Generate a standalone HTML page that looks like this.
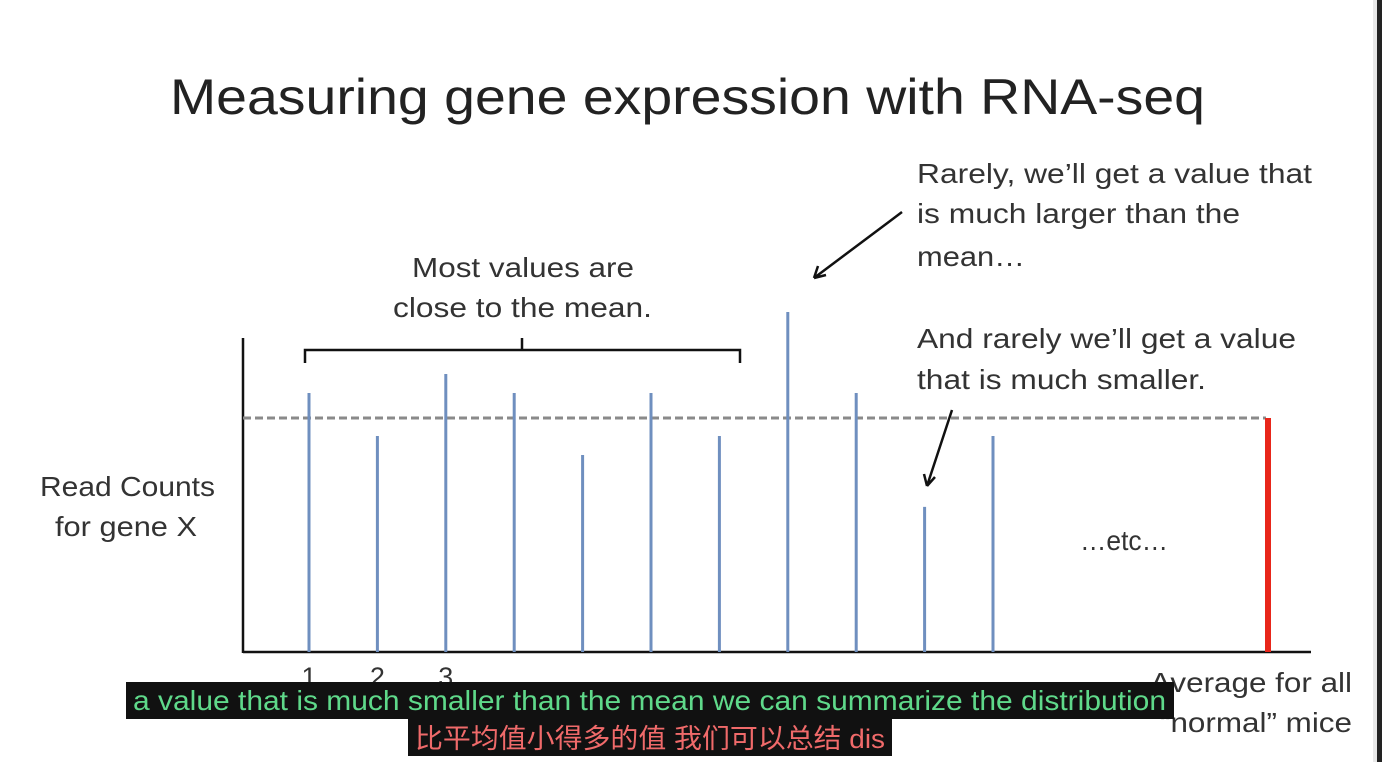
<!DOCTYPE html>
<html><head><meta charset="utf-8"><style>
html,body{margin:0;padding:0;background:#fff;}
body{width:1382px;height:762px;overflow:hidden;position:relative;font-family:"Liberation Sans","Noto Sans CJK SC",sans-serif;}
svg{position:absolute;left:0;top:0;}
</style></head><body>
<svg id="chart" width="1382" height="762">
  <rect x="1373" y="0" width="9" height="762" fill="#e8e8e8"/>
  <rect x="1377" y="0" width="5" height="762" fill="#222"/>
  <text x="170" y="114" font-size="50" fill="#222" textLength="1035" lengthAdjust="spacingAndGlyphs">Measuring gene expression with RNA-seq</text>
  <g font-size="28" fill="#333">
    <text x="412" y="277" textLength="222" lengthAdjust="spacingAndGlyphs">Most values are</text>
    <text x="393" y="317" textLength="259" lengthAdjust="spacingAndGlyphs">close to the mean.</text>
    <text x="917" y="183" textLength="395" lengthAdjust="spacingAndGlyphs">Rarely, we’ll get a value that</text>
    <text x="917" y="223" textLength="323" lengthAdjust="spacingAndGlyphs">is much larger than the</text>
    <text x="917" y="266" textLength="108" lengthAdjust="spacingAndGlyphs">mean…</text>
    <text x="917" y="348" textLength="379" lengthAdjust="spacingAndGlyphs">And rarely we’ll get a value</text>
    <text x="917" y="389" textLength="289" lengthAdjust="spacingAndGlyphs">that is much smaller.</text>
    <text x="1080" y="550" textLength="88" lengthAdjust="spacingAndGlyphs">…etc…</text>
    <text x="40" y="496" textLength="175" lengthAdjust="spacingAndGlyphs">Read Counts</text>
    <text x="55" y="536" textLength="142" lengthAdjust="spacingAndGlyphs">for gene X</text>
    <text x="1150" y="692" textLength="202" lengthAdjust="spacingAndGlyphs">Average for all</text>
    <text x="1160" y="732" textLength="192" lengthAdjust="spacingAndGlyphs">“normal” mice</text>
  </g>
  <path d="M305,363 V350 H740 V363 M522,350 V338" fill="none" stroke="#111" stroke-width="2.5"/>
  <path d="M902,212 L814,278 M814,278 l4,-12 M814,278 l12,-3" fill="none" stroke="#111" stroke-width="2.5"/>
  <path d="M952,410 L927,486 M927,486 l-3,-12 M927,486 l8,-9" fill="none" stroke="#111" stroke-width="2.5"/>
  <g id="marks"></g>
  <rect x="126" y="682" width="1048" height="37" fill="#111"/>
  <text x="133" y="710" font-size="28" fill="#5fd98a" textLength="1033" lengthAdjust="spacingAndGlyphs">a value that is much smaller than the mean we can summarize the distribution</text>
  <rect x="408" y="719" width="484" height="37" fill="#111"/>
  <text x="415" y="748" font-size="27" fill="#f06a6a" textLength="470" lengthAdjust="spacingAndGlyphs">比平均值小得多的值 我们可以总结 dis</text>
</svg>
<script>
const sampleIds = [1,2,3,4,5,6,7,8,9,10,11];
const readCounts = [110.7,92.3,118.8,110.7,84.2,110.7,92.3,145.3,110.7,62.0,92.3];
const meanValue = 100;
const tickLabels = ["1","2","3"];
const NS='http://www.w3.org/2000/svg';
const g=document.getElementById('marks');
const x0=243, y0=652, step=68.4, ppu=2.34;
const xs=i=>309+(i-1)*step;
const ys=v=>y0-v*ppu;
function mk(t,a){const e=document.createElementNS(NS,t);for(const k in a)e.setAttribute(k,a[k]);g.appendChild(e);return e;}
let e=mk('line',{x1:x0,y1:338,x2:x0,y2:y0+1,stroke:'#111','stroke-width':2.5});


e=mk('line',{x1:x0,y1:y0,x2:1311,y2:y0,stroke:'#111','stroke-width':2.5});


e=mk('line',{x1:x0,y1:ys(meanValue),x2:1266,y2:ys(meanValue),stroke:'#8a8a8a','stroke-width':3,'stroke-dasharray':'8,4'});


readCounts.forEach((v,i)=>{
  const b=mk('line',{x1:xs(sampleIds[i]),x2:xs(sampleIds[i]),y1:ys(v),y2:y0,stroke:'#6f8fbf','stroke-width':3});
  
  
});
e=mk('line',{x1:1268,x2:1268,y1:ys(meanValue),y2:y0,stroke:'#e8261a','stroke-width':6});


tickLabels.forEach((t,i)=>{
  const l=mk('text',{x:xs(i+1),y:686,'font-size':27,fill:'#333','text-anchor':'middle'});
  l.textContent=t;
  
  
});
</script>
</body></html>
